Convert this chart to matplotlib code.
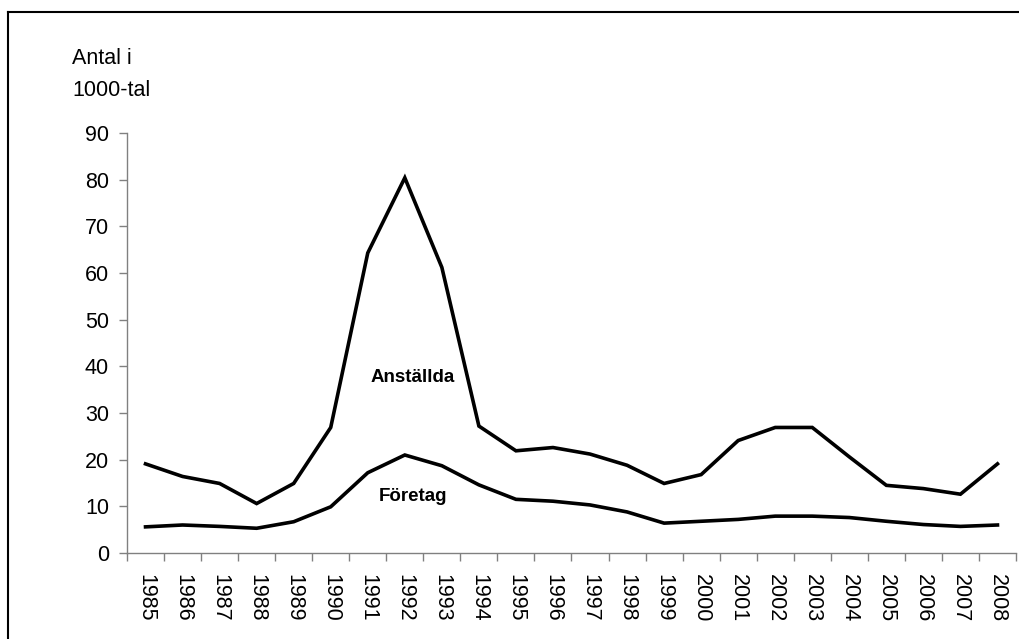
import matplotlib
matplotlib.use('Agg')
import matplotlib.pyplot as plt
from matplotlib.lines import Line2D
import numpy as np

plt.rcParams['font.family'] = ['Liberation Sans', 'DejaVu Sans']

years = [str(y) for y in range(1985, 2009)]
anstallda = [19.1, 16.4, 14.9, 10.6, 14.9, 26.9, 64.3, 80.4, 61.2, 27.2, 21.9, 22.6,
             21.2, 18.8, 14.9, 16.8, 24.1, 26.9, 26.9, 20.6, 14.5, 13.8, 12.6, 19.1]
foretag = [5.6, 6.0, 5.7, 5.3, 6.7, 9.9, 17.2, 21.0, 18.7, 14.6, 11.5, 11.1,
           10.3, 8.8, 6.4, 6.8, 7.2, 7.9, 7.9, 7.6, 6.8, 6.1, 5.7, 6.0]
yticks = [0, 10, 20, 30, 40, 50, 60, 70, 80, 90]

fig = plt.figure(figsize=(10.2, 6.39), dpi=100)
ax = fig.add_axes([127 / 1020, 1 - 553 / 639, (1016 - 127) / 1020, (553 - 133) / 639])

x = np.arange(len(years))
ax.plot(x, anstallda, color='black', lw=2.6, solid_joinstyle='miter')
ax.plot(x, foretag, color='black', lw=2.6, solid_joinstyle='miter')

ax.set_xlim(-0.5, len(years) - 0.5)
ax.set_ylim(0, 90)

# labels centred on categories, tick marks on the boundaries
ax.set_xticks(x)
ax.set_xticklabels(years, rotation=270, fontsize=15.5)
ax.tick_params(axis='x', which='major', length=0, pad=15)
ax.set_xticks(np.arange(-0.5, len(years)), minor=True)
ax.tick_params(axis='x', which='minor', length=6, width=1, color='#808080')

ax.set_yticks(yticks)
ax.tick_params(axis='y', length=6, width=1, color='#808080', labelsize=15.5, pad=7)

for s in ['top', 'right']:
    ax.spines[s].set_visible(False)
for s in ['left', 'bottom']:
    ax.spines[s].set_color('#808080')
    ax.spines[s].set_linewidth(1)

ax.text(7.2, 37.5, 'Anställda', fontsize=13.5, fontweight='bold', ha='center', va='center')
ax.text(7.22, 12.2, 'Företag', fontsize=13.5, fontweight='bold', ha='center', va='center')

fig.text(72 / 1020, 1 - 64 / 639, 'Antal i', fontsize=15.5, ha='left', va='baseline')
fig.text(72 / 1020, 1 - 96 / 639, '1000-tal', fontsize=15.5, ha='left', va='baseline')

# outer frame (left and top edges visible)
fig.add_artist(Line2D([8 / 1020, 8 / 1020], [0, 1 - 12 / 639], color='black', lw=1.5,
                      transform=fig.transFigure))
fig.add_artist(Line2D([8 / 1020, 1], [1 - 12 / 639, 1 - 12 / 639], color='black', lw=1.5,
                      transform=fig.transFigure))

fig.savefig('out.png', dpi=100)
